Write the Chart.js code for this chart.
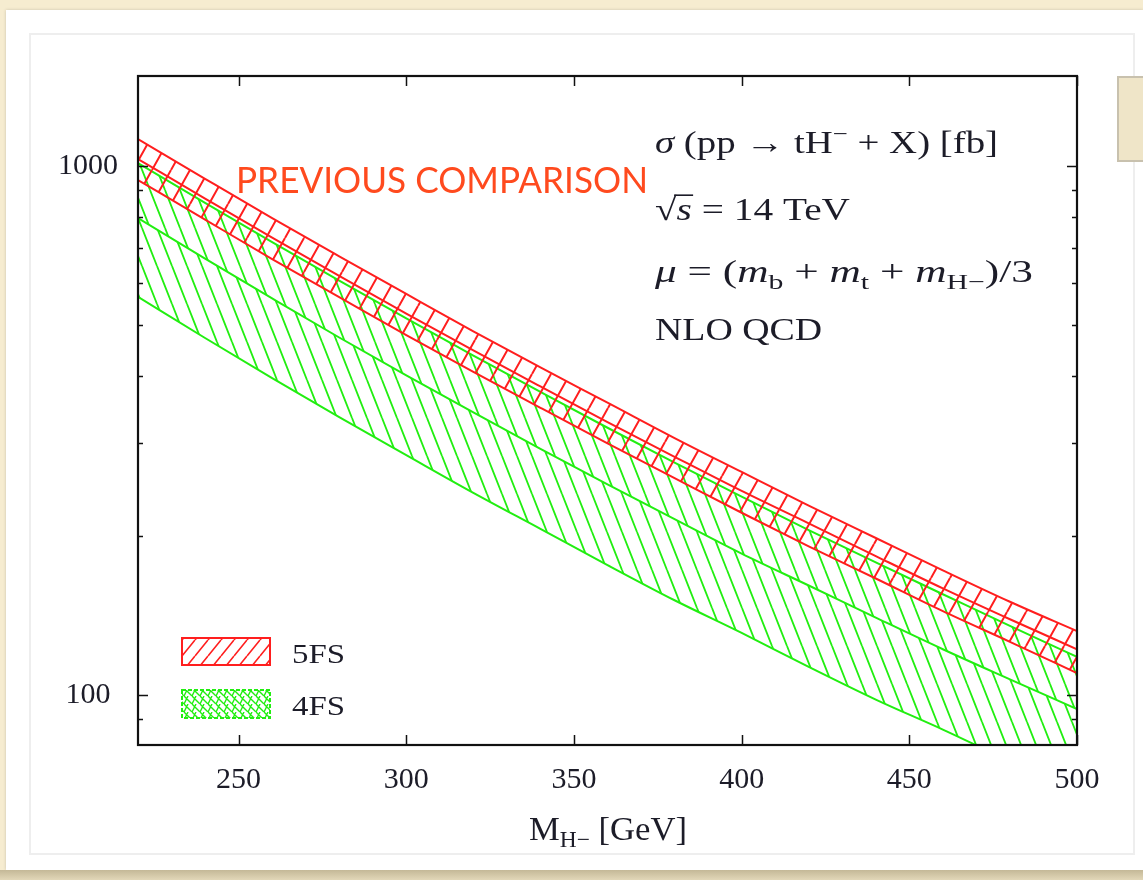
<!DOCTYPE html>
<html><head><meta charset="utf-8">
<script src="https://cdn.jsdelivr.net/npm/chart.js@4.4.1/dist/chart.umd.min.js"></script>
<style>
html,body{margin:0;padding:0;width:1143px;height:880px;overflow:hidden;background:#f6ecd0;}
#panel{position:absolute;left:6px;top:10px;width:1137px;height:860px;background:#fff;box-shadow:0 0 3px rgba(0,0,0,0.18);}
#inner{position:absolute;left:29px;top:33px;width:1102px;height:818px;border:2px solid #eeeeee;}
#bottomband{position:absolute;left:0;top:870px;width:1143px;height:10px;background:linear-gradient(#c4b897,#e2d7b8);}
#sidebox{position:absolute;left:1117px;top:76px;width:40px;height:82px;background:#efe5c8;border:2px solid #c8c1ae;}
canvas{position:absolute;left:0;top:0;}
</style></head>
<body>
<div id="panel"></div><div id="inner"></div><div id="bottomband"></div><div id="sidebox"></div>
<canvas id="c" width="1143" height="880"></canvas>
<script>
// ---- data ----
const massGeV = [220, 240, 260, 280, 300, 320, 340, 360, 380, 400, 420, 440, 460, 480, 500];
const fs5Upper   = [1125, 946, 797, 675, 573, 487, 416, 357, 306, 264, 228, 198, 172, 150, 132];
const fs5Central = [1031, 868, 732, 620, 526, 448, 383, 328, 282, 243, 211, 183, 159, 139, 122];
const fs5Lower   = [941, 792, 667, 565, 479, 408, 349, 299, 257, 221, 191, 166, 144, 126, 110];
const fs4Upper   = [1013, 852, 718, 607, 515, 438, 374, 320, 275, 237, 205, 178, 155, 135, 118];
const fs4Central = [797, 668, 562, 474, 402, 342, 292, 250, 215, 185, 161, 140, 122, 107, 94];
const fs4Lower   = [566, 473, 397, 335, 284, 241, 206, 176, 151, 131, 113, 98, 86, 75, 66];
const xTickValues = [250, 300, 350, 400, 450, 500];
const yTickValues = [90, 100, 200, 300, 400, 500, 600, 700, 800, 900, 1000];
const yLabelValues = [100, 1000];
const seriesNames = ['5FS', '4FS'];

const RED = '#ff1e1e';
const GREEN = '#22ee11';
const SERIF = '"Liberation Serif","DejaVu Serif",serif';
const canvas = document.getElementById('c');
const ctx = canvas.getContext('2d');

function makeHatch(color, w, h, lw, dir, phase) {
  const c = document.createElement('canvas'); c.width = w; c.height = h;
  const g = c.getContext('2d'); g.strokeStyle = color; g.lineWidth = lw; g.lineCap = 'butt';
  g.beginPath();
  for (let k = -2; k <= 2; k++) {
    const ox = k * w + phase;
    if (dir === '/') { g.moveTo(ox, h); g.lineTo(ox + w, 0); }
    else { g.moveTo(ox, 0); g.lineTo(ox + w, h); }
  }
  g.stroke();
  return ctx.createPattern(c, 'repeat');
}
const redHatch = makeHatch(RED, 19, 34, 2, '/', 0);
const greenHatchA = makeHatch(GREEN, 15, 38, 1.8, '\\', 0);
const greenHatchB = makeHatch(GREEN, 15, 38, 1.8, '\\', 7);
const legendRed = makeHatch(RED, 13, 16, 1.6, '/', 0);
const legendGreen = (() => {
  const c = document.createElement('canvas'); c.width = 8; c.height = 8;
  const g = c.getContext('2d'); g.strokeStyle = GREEN; g.lineWidth = 1.4;
  g.beginPath(); g.moveTo(0,0); g.lineTo(8,8); g.moveTo(-8,0); g.lineTo(0,8); g.moveTo(8,0); g.lineTo(16,8);
  g.moveTo(0,8); g.lineTo(4,0); g.stroke();
  return ctx.createPattern(c, 'repeat');
})();

function pts(arr) { return massGeV.map((m, i) => ({ x: m, y: arr[i] })); }

function drawRich(c, x, baseline, parts, size, targetW, color, family) {
  family = family || SERIF;
  const fontOf = p => `${p.it ? 'italic ' : ''}${(p.sub || p.sup) ? Math.round(size * 0.68) : size}px ${family}`;
  let total = 0; const widths = [];
  parts.forEach(p => { c.font = fontOf(p); const w = c.measureText(p.t).width; widths.push(w); total += w; });
  const sx = targetW ? targetW / total : 1;
  c.save(); c.translate(x, baseline); c.scale(sx, 1);
  c.fillStyle = color; c.textBaseline = 'alphabetic'; c.textAlign = 'left';
  let cx = 0;
  parts.forEach((p, i) => {
    c.font = fontOf(p);
    const dy = p.sub ? size * 0.22 : (p.sup ? -size * 0.38 : 0);
    c.fillText(p.t, cx, dy);
    if (p.over) c.fillRect(cx - 2, -size * 0.8, widths[i] + 3, Math.max(1.5, size * 0.05));
    cx += widths[i];
  });
  c.restore();
}

const frameTicks = {
  id: 'frameTicks',
  afterDatasetsDraw(chart) {
    const { ctx: c, chartArea: a, scales: { x, y } } = chart;
    c.save();
    c.strokeStyle = '#111'; c.lineWidth = 1.5;
    c.beginPath();
    xTickValues.forEach(v => {
      const px = Math.round(x.getPixelForValue(v)) + 0.5;
      c.moveTo(px, a.bottom); c.lineTo(px, a.bottom - 10);
      c.moveTo(px, a.top); c.lineTo(px, a.top + 10);
    });
    yTickValues.forEach(v => {
      const py = Math.round(y.getPixelForValue(v)) + 0.5;
      const len = yLabelValues.includes(v) ? 10 : 5;
      c.moveTo(a.left, py); c.lineTo(a.left + len, py);
      c.moveTo(a.right, py); c.lineTo(a.right - len, py);
    });
    c.stroke();
    c.lineWidth = 2.2; c.strokeStyle = '#111';
    c.strokeRect(a.left, a.top, a.width, a.height);
    c.restore();
  },
  afterDraw(chart) {
    const c = chart.ctx;
    const ink = '#1c1c28';
    drawRich(c, 655, 153, [{t:'σ',it:1},{t:' (pp → tH'},{t:'−',sup:1},{t:' + X) [fb]'}], 32, 343, ink);
    drawRich(c, 655, 220, [{t:'√'},{t:'s',it:1,over:1},{t:' = 14 TeV'}], 32, 195, ink);
    drawRich(c, 655, 282, [{t:'μ',it:1},{t:' = ('},{t:'m',it:1},{t:'b',sub:1},{t:' + '},{t:'m',it:1},{t:'t',sub:1},{t:' + '},{t:'m',it:1},{t:'H−',sub:1},{t:')/3'}], 32, 378, ink);
    drawRich(c, 655, 340, [{t:'NLO QCD'}], 32, 167, ink);
    drawRich(c, 529, 840, [{t:'M'},{t:'H−',sub:1},{t:' [GeV]'}], 34, 158, ink);
    c.save();
    c.fillStyle = legendRed; c.fillRect(182, 638, 88, 27);
    c.strokeStyle = RED; c.lineWidth = 2; c.strokeRect(182, 638, 88, 27);
    c.fillStyle = legendGreen; c.fillRect(182, 690, 88, 28);
    c.strokeStyle = GREEN; c.lineWidth = 2; c.setLineDash([4, 2]); c.strokeRect(182, 690, 88, 28);
    c.restore();
    drawRich(c, 292, 663, [{t:seriesNames[0]}], 28, 53, ink);
    drawRich(c, 292, 715, [{t:seriesNames[1]}], 28, 53, ink);
    drawRich(c, 236, 193, [{t:'PREVIOUS COMPARISON'}], 36, 412, '#ff4a1e', 'Lato,"Open Sans",sans-serif');
  }
};

const lineDs = (label, arr, color, extra) => Object.assign({
  label, data: pts(arr), borderColor: color, borderWidth: 2, pointRadius: 0,
  cubicInterpolationMode: 'monotone', fill: false, clip: 0
}, extra || {});

new Chart(ctx, {
  type: 'line',
  data: {
    datasets: [
      lineDs('5FS upper', fs5Upper, RED, { fill: { target: 2 }, backgroundColor: redHatch }),
      lineDs('5FS central', fs5Central, RED),
      lineDs('5FS lower', fs5Lower, RED),
      lineDs('4FS upper', fs4Upper, GREEN, { fill: { target: 4 }, backgroundColor: greenHatchA }),
      lineDs('4FS central', fs4Central, GREEN, { fill: { target: 5 }, backgroundColor: greenHatchB }),
      lineDs('4FS lower', fs4Lower, GREEN)
    ]
  },
  options: {
    responsive: false, devicePixelRatio: 1, animation: false, events: [],
    layout: { padding: { left: 0, top: 76, right: 66, bottom: 75 } },
    plugins: { legend: { display: false }, tooltip: { enabled: false } },
    scales: {
      x: {
        type: 'linear', min: 220, max: 500,
        grid: { display: false, drawTicks: false }, border: { display: false },
        afterBuildTicks: s => { s.ticks = xTickValues.map(v => ({ value: v })); },
        afterFit: s => { s.height = 60; },
        ticks: { padding: 17, color: '#1c1c28', font: { family: SERIF, size: 30 }, maxRotation: 0, autoSkip: false,
                 callback: v => String(v) }
      },
      y: {
        type: 'logarithmic', min: 80.4, max: 1480,
        grid: { display: false, drawTicks: false }, border: { display: false },
        afterBuildTicks: s => { s.ticks = yTickValues.map(v => ({ value: v })); },
        afterFit: s => { s.width = 138; },
        ticks: { padding: 20, crossAlign: 'center', color: '#1c1c28', font: { family: SERIF, size: 30 }, autoSkip: false,
                 callback: v => yLabelValues.includes(v) ? String(v) : '' }
      }
    }
  },
  plugins: [frameTicks]
});
</script>
</body></html>
